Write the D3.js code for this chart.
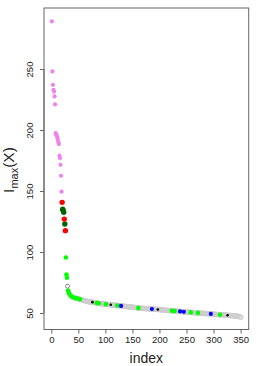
<!DOCTYPE html>
<html>
<head>
<meta charset="utf-8">
<script src="https://cdn.jsdelivr.net/npm/d3@7"></script>
<style>
  html, body { margin: 0; padding: 0; background: #fff; }
  svg { display: block; font-family: "Liberation Sans", Arial, sans-serif; }
</style>
</head>
<body>
<div id="chart"></div>
<script>
// I_max(X) sorted in decreasing order, one value per index (1..351)
const imax = [
  289, 248, 237, 233, 231.5, 227.5, 221, 197.5, 196.5, 195.5,
  194, 192, 190, 188.5, 179, 177, 171.5, 162.5, 149.5, 140.7,
  135, 134, 132.5, 127, 123, 117.5, 95.5, 81.5, 79, 72,
  68.3, 67, 66, 65.2, 64.6, 64.1, 63.7, 63.4, 63.1, 62.9,
  62.7, 62.6, 62.5, 62.3, 62.2, 62.1, 62.0, 61.9, 61.8, 61.7,
  61.6, 61.4, 61.3, 61.1, 61.0, 60.9, 60.7, 60.6, 60.4, 60.3,
  60.2, 60.1, 59.9, 59.8, 59.6, 59.5, 59.4, 59.4, 59.3, 59.2,
  59.2, 59.1, 59.1, 59.0, 58.9, 58.9, 58.8, 58.7, 58.6, 58.6,
  58.5, 58.4, 58.3, 58.2, 58.2, 58.1, 58.0, 58.0, 57.9, 57.8,
  57.8, 57.7, 57.7, 57.6, 57.5, 57.5, 57.4, 57.4, 57.3, 57.2,
  57.2, 57.1, 57.1, 57.0, 57.0, 56.9, 56.9, 56.9, 56.8, 56.8,
  56.7, 56.7, 56.6, 56.6, 56.5, 56.5, 56.4, 56.4, 56.3, 56.3,
  56.2, 56.2, 56.1, 56.0, 56.0, 55.9, 55.9, 55.8, 55.8, 55.7,
  55.7, 55.7, 55.6, 55.6, 55.5, 55.5, 55.4, 55.4, 55.3, 55.3,
  55.2, 55.2, 55.1, 55.1, 55.0, 55.0, 54.9, 54.9, 54.8, 54.8,
  54.7, 54.7, 54.6, 54.6, 54.5, 54.5, 54.4, 54.4, 54.3, 54.3,
  54.1, 54.1, 54.0, 54.0, 54.0, 53.9, 53.9, 53.9, 53.8, 53.8,
  53.8, 53.7, 53.7, 53.7, 53.6, 53.6, 53.6, 53.5, 53.5, 53.5,
  53.4, 53.4, 53.4, 53.3, 53.3, 53.3, 53.2, 53.2, 53.2, 53.1,
  53.1, 53.1, 53.0, 53.0, 53.0, 53.0, 52.9, 52.9, 52.9, 52.8,
  52.8, 52.7, 52.7, 52.6, 52.6, 52.5, 52.5, 52.4, 52.4, 52.3,
  52.3, 52.3, 52.2, 52.2, 52.2, 52.1, 52.1, 52.0, 52.0, 52.0,
  51.9, 51.9, 51.9, 51.8, 51.8, 51.7, 51.7, 51.7, 51.6, 51.6,
  51.6, 51.5, 51.5, 51.5, 51.4, 51.4, 51.3, 51.3, 51.3, 51.2,
  51.2, 51.1, 51.1, 51.1, 51.0, 51.0, 50.9, 50.9, 50.8, 50.8,
  50.8, 50.7, 50.7, 50.6, 50.6, 50.6, 50.5, 50.5, 50.5, 50.4,
  50.4, 50.4, 50.3, 50.3, 50.3, 50.2, 50.2, 50.2, 50.1, 50.1,
  50.1, 50.0, 50.0, 50.0, 49.9, 49.9, 49.9, 49.8, 49.8, 49.8,
  49.7, 49.7, 49.7, 49.6, 49.6, 49.6, 49.5, 49.5, 49.5, 49.5,
  49.4, 49.4, 49.4, 49.4, 49.3, 49.3, 49.2, 49.2, 49.1, 49.1,
  49.0, 49.0, 48.9, 48.9, 48.9, 48.8, 48.8, 48.8, 48.7, 48.7,
  48.7, 48.6, 48.6, 48.6, 48.5, 48.5, 48.5, 48.4, 48.4, 48.4,
  48.3, 48.3, 48.3, 48.2, 48.2, 48.2, 48.1, 48.1, 48.0, 48.0,
  47.9, 47.9, 47.9, 47.8, 47.8, 47.8, 47.7, 47.7, 47.7, 47.6,
  47.6, 47.5, 47.5, 47.4, 47.4, 47.3, 47.2, 47.1, 47.0, 46.8,
  46.3
];

// indices (1-based) of the highlighted points, by colour
const pinkIdx = d3.range(1, 20);
const redIdx = [20, 24, 26];
const darkGreenIdx = [21, 22, 23, 25];
const greenIdx = [27, 28, 29, 31, 33, 36, 40, 44, 48, 53, 84, 88, 101, 122, 161, 223, 228, 258, 271, 312];
const blueIdx = [129, 186, 238, 245, 295];
const blackIdx = [76, 110, 197, 326];

const xTicks = [0, 50, 100, 150, 200, 250, 300, 350];
const yTicks = [50, 100, 150, 200, 250];

const width = 258, height = 366;
const box = { left: 44, right: 248.7, top: 8, bottom: 329.5 };

const x = d3.scaleLinear().domain([-13.5, 365]).range([box.left, box.right]);
const y = d3.scaleLinear().domain([36.5, 300]).range([box.bottom, box.top]);

const svg = d3.select("#chart").append("svg")
    .attr("width", width)
    .attr("height", height);

const pts = imax.map((v, i) => ({ idx: i + 1, v: v }));

// grey band: every remaining point as a light open circle
svg.append("g")
  .selectAll("circle")
  .data(pts.filter(d => d.idx > 30))
  .join("circle")
    .attr("cx", d => x(d.idx))
    .attr("cy", d => y(d.v))
    .attr("r", 2.3)
    .attr("fill", "#dcdcdc")
    .attr("stroke", "#c4c4c4")
    .attr("stroke-width", 0.5);

// the first grey point stands alone
svg.append("circle")
    .attr("cx", x(pts[29].idx))
    .attr("cy", y(pts[29].v))
    .attr("r", 2)
    .attr("fill", "#fff")
    .attr("stroke", "#666")
    .attr("stroke-width", 0.8);

function layer(idxs, color, r) {
  svg.append("g")
    .selectAll("circle")
    .data(idxs.map(i => pts[i - 1]))
    .join("circle")
      .attr("cx", d => x(d.idx))
      .attr("cy", d => y(d.v))
      .attr("r", r)
      .attr("fill", color);
}

layer(pinkIdx, "#ee82ee", 2.1);
layer(greenIdx, "#00ff00", 2.3);
layer(blueIdx, "#0000ff", 2.1);
layer(blackIdx, "#000000", 1.3);
layer(darkGreenIdx, "#006400", 2.7);
layer(redIdx, "#ff0000", 2.7);

// box
svg.append("rect")
    .attr("x", box.left)
    .attr("y", box.top)
    .attr("width", box.right - box.left)
    .attr("height", box.bottom - box.top)
    .attr("fill", "none")
    .attr("stroke", "#666")
    .attr("stroke-width", 1);

// x axis
const xAxis = svg.append("g")
    .attr("transform", `translate(0,${box.bottom})`)
    .call(d3.axisBottom(x).tickValues(xTicks).tickSize(4).tickPadding(3).tickSizeOuter(0));
xAxis.select(".domain")
    .attr("d", `M${x(xTicks[0])},0H${x(xTicks[xTicks.length - 1])}`)
    .attr("stroke", "#666");
xAxis.selectAll(".tick line").attr("stroke", "#666");
xAxis.selectAll(".tick text")
    .attr("font-size", 9.5)
    .attr("font-family", "Liberation Sans, Arial, sans-serif")
    .attr("fill", "#222");

// y axis, labels parallel to the axis
const yAxis = svg.append("g")
    .attr("transform", `translate(${box.left},0)`)
    .call(d3.axisLeft(y).tickValues(yTicks).tickSize(4).tickSizeOuter(0));
yAxis.select(".domain")
    .attr("d", `M0,${y(yTicks[0])}V${y(yTicks[yTicks.length - 1])}`)
    .attr("stroke", "#666");
yAxis.selectAll(".tick line").attr("stroke", "#666");
yAxis.selectAll(".tick text")
    .attr("x", null)
    .attr("dy", null)
    .attr("transform", "translate(-11,0) rotate(-90)")
    .attr("text-anchor", "middle")
    .attr("font-size", 9.5)
    .attr("font-family", "Liberation Sans, Arial, sans-serif")
    .attr("fill", "#222");

// axis titles
svg.append("text")
    .attr("x", (box.left + box.right) / 2)
    .attr("y", 363)
    .attr("text-anchor", "middle")
    .attr("font-size", 14)
    .attr("fill", "#222")
    .text("index");

const yt = svg.append("text")
    .attr("transform", "translate(14,170) rotate(-90)")
    .attr("text-anchor", "middle")
    .attr("font-size", 15.5)
    .attr("fill", "#222");
yt.append("tspan").text("I");
yt.append("tspan").attr("font-size", 11).attr("dy", 3.5).text("max");
yt.append("tspan").attr("dy", -3.5).text("(X)");
</script>
</body>
</html>
